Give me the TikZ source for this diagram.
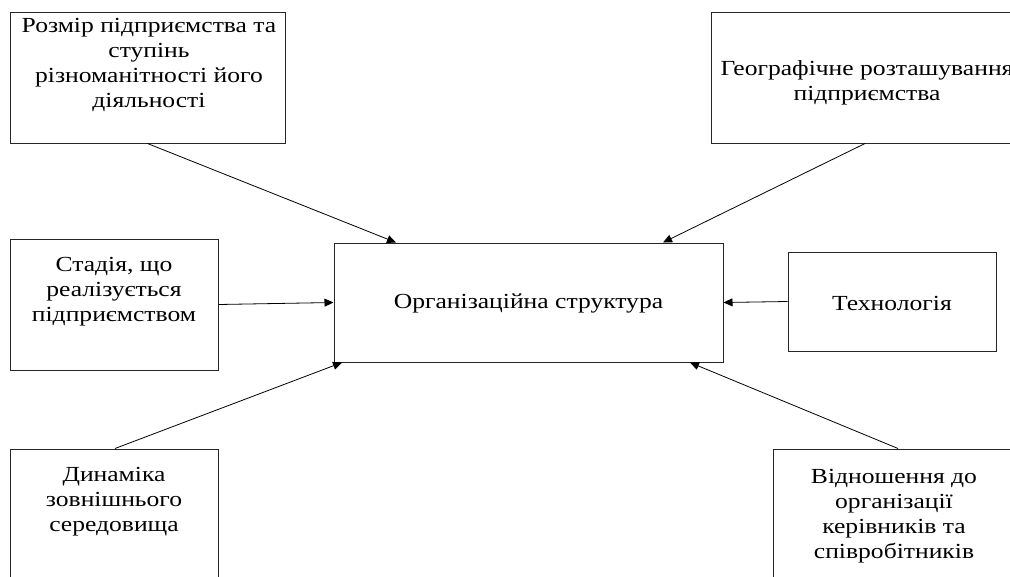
\documentclass[tikz,border=0pt]{standalone}
\usepackage{fontspec}
\setmainfont[FakeStretch=1.19]{Liberation Serif}
\usetikzlibrary{arrows.meta}
\tikzset{
  box/.style={draw=black!85, line width=1pt, rectangle, inner sep=0pt},
  lbl/.style={align=center, inner sep=0pt, font=\fontsize{21.5}{25}\selectfont},
  arr/.style={draw=black, line width=0.8pt, -{Triangle[length=9pt,width=8pt]}}
}
\begin{document}
\begin{tikzpicture}[x=1pt,y=-1pt]
\useasboundingbox (0,0) rectangle (1010,576);
% boxes
\node[box, minimum width=275pt, minimum height=131pt] (b1) at (147.5,77.5) {};
\node[box, minimum width=312pt, minimum height=131pt] (b2) at (867,77.5) {};
\node[box, minimum width=208pt, minimum height=131pt] (b3) at (114,304.5) {};
\node[box, minimum width=389pt, minimum height=119pt] (c) at (528.5,302.5) {};
\node[box, minimum width=208pt, minimum height=99pt] (t) at (892,301.5) {};
\node[box, minimum width=208pt, minimum height=131pt] (d) at (114,514.5) {};
\node[box, minimum width=242pt, minimum height=131pt] (r) at (894,514.5) {};
% texts
\node[lbl] (t1) at (149,64.5) {Розмір підприємства та\\ступінь\\різноманітності його\\діяльності};
\node[lbl] (t2) at (867,83) {Географічне розташування\\підприємства};
\node[lbl] (t3) at (114,292) {Стадія, що\\реалізується\\підприємством};
\node[lbl] (tc) at (528.5,303.5) {Організаційна структура};
\node[lbl] (tt) at (892,303.5) {Технологія};
\node[lbl] (td) at (114,502) {Динаміка\\зовнішнього\\середовища};
\node[lbl] (tr) at (894,516.5) {Відношення до\\організації\\керівників та\\співробітників};
% connectors
\draw[arr] (b1.south) -- ([xshift=-132.5pt]c.north);
\draw[arr] ([xshift=-2pt]b2.south) -- ([xshift=134.5pt]c.north);
\draw[arr] (b3.east) -- (c.west);
\draw[arr] (t.west) -- (c.east);
\draw[arr] ([xshift=1pt]d.north) -- ([xshift=-186.5pt]c.south);
\draw[arr] ([xshift=4pt]r.north) -- ([xshift=161.5pt]c.south);
\end{tikzpicture}
\end{document}
